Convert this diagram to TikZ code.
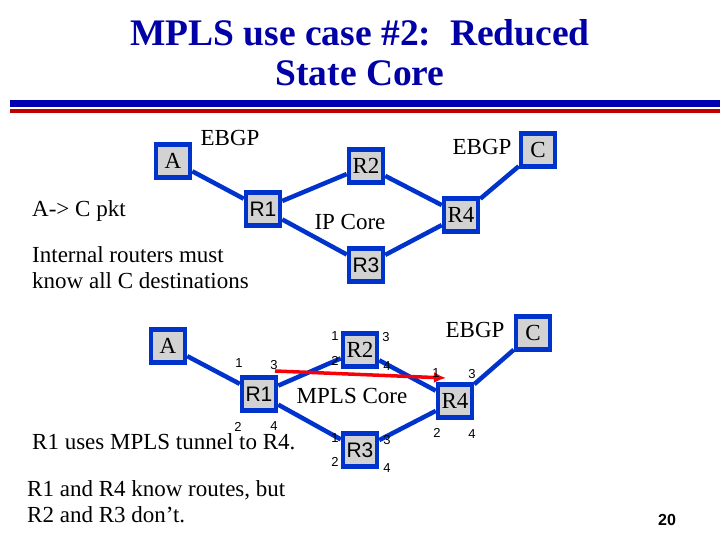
\documentclass[tikz,border=0pt]{standalone}
\usepackage{fontspec}
\usetikzlibrary{arrows.meta}
\setmainfont{Liberation Serif}
\newfontfamily\sansf{Liberation Sans}
\begin{document}
\begin{tikzpicture}[x=1pt,y=-1pt,
  rtr/.style={draw=blue!75!cyan!80!black,line width=4.5pt,fill=gray!35,minimum width=34pt,minimum height=33pt,inner sep=0pt,font=\fontsize{23}{23}\selectfont},
  lnk/.style={draw=blue!75!cyan!80!black,line width=4.5pt},
  txt/.style={font=\fontsize{23}{26}\selectfont,align=left,inner sep=0pt},
  prt/.style={font=\sansf\fontsize{13}{13}\selectfont,inner sep=0pt}]
\useasboundingbox (0,0) rectangle (720,540);
\node[font=\fontsize{37.5}{40}\selectfont\bfseries,text=blue!65!black,align=center] (title) at (360,53) {MPLS use case \#2:\ \ Reduced\\State Core};
\fill[blue!70!black] (10,100) rectangle (720,107);
\fill[red!75!black] (10,109) rectangle (720,113);
% top
\node[rtr] (A) at (173,161) {A};
\node[rtr,font=\sansf\fontsize{21}{21}\selectfont] (R1) at (263,209) {R1};
\node[rtr] (R2) at (366,166) {R2};
\node[rtr] (R4) at (461,215) {R4};
\node[rtr,font=\sansf\fontsize{21}{21}\selectfont] (R3) at (366,265) {R3};
\node[rtr] (C) at (538,150) {C};
\draw[lnk] (A) -- (R1); \draw[lnk] (R1) -- (R2); \draw[lnk] (R2) -- (R4);
\draw[lnk] (R1) -- (R3); \draw[lnk] (R3) -- (R4); \draw[lnk] (R4) -- (C);
\node[txt] (e1) at (230,138) {EBGP};
\node[txt] (e2) at (482,147) {EBGP};
\node[txt] (ipc) at (350,222) {IP Core};
\node[txt,anchor=west] (pkt) at (32,211) {A-> C pkt};
\node[txt,anchor=west] (irm) at (32,268) {Internal routers must\\know all C destinations};
% bottom
\node[rtr] (bA) at (168,346) {A};
\node[rtr,font=\sansf\fontsize{21}{21}\selectfont] (bR1) at (259,394) {R1};
\node[rtr] (bR2) at (360,350) {R2};
\node[rtr] (bR4) at (455,401) {R4};
\node[rtr,font=\sansf\fontsize{21}{21}\selectfont] (bR3) at (360,450) {R3};
\node[rtr] (bC) at (533,333) {C};
\draw[lnk] (bA) -- (bR1); \draw[lnk] (bR1) -- (bR2); \draw[lnk] (bR2) -- (bR4);
\draw[lnk] (bR1) -- (bR3); \draw[lnk] (bR3) -- (bR4); \draw[lnk] (bR4) -- (bC);
\coordinate (ts) at (275,371); \coordinate (te) at (446,378);
\draw[red!85!purple,line width=3.5pt,-{Latex[length=12pt,width=11pt]}] (ts) -- (te);
\node[txt] (e3) at (475,330) {EBGP};
\node[txt] (mc) at (352,396) {MPLS Core};
\node[prt] at (239,363) {1}; \node[prt] at (274,365) {3};
\node[prt] at (238,427) {2}; \node[prt] at (274,426) {4};
\node[prt] at (335,336) {1}; \node[prt] at (386,337) {3};
\node[prt] at (335,361) {2}; \node[prt] at (387,366) {4};
\node[prt] at (436,373) {1}; \node[prt] at (472,374) {3};
\node[prt] at (437,433) {2}; \node[prt] at (472,434) {4};
\node[prt] at (335,438) {1}; \node[prt] at (387,440) {3};
\node[prt] at (335,462) {2}; \node[prt] at (387,468) {4};
\node[txt,anchor=west] (tun) at (32,442) {R1 uses MPLS tunnel to R4.};
\node[txt,anchor=west] (kr) at (27,502) {R1 and R4 know routes, but\\R2 and R3 don't.};
\node[font=\sansf\bfseries\fontsize{16}{16}\selectfont] (pg) at (667,520) {20};
\end{tikzpicture}
\end{document}
